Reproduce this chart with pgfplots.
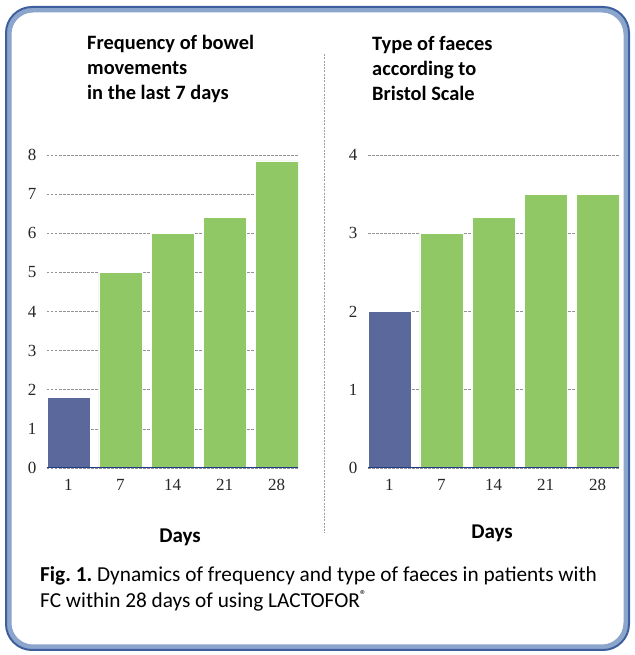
\documentclass[border=0pt]{standalone}
\usepackage{pgfplots}
\pgfplotsset{compat=1.18}
\usepackage{fontspec}
\setmainfont{Carlito}
\newfontfamily\tickfont{Liberation Serif}
\frenchspacing
\definecolor{barblue}{RGB}{91,104,156}
\definecolor{bargreen}{RGB}{143,200,101}
\definecolor{baseblue}{RGB}{31,60,136}
\definecolor{frameblue}{RGB}{62,95,158}
\definecolor{framelight}{RGB}{140,165,205}
\pgfplotsset{mybar/.style={
  scale only axis, width=251pt, height=313pt, anchor=south west,
  ymin=0, xmin=-0.41, xmax=4.41,
  ybar, bar width=43pt, bar shift=0pt,
  ymajorgrids, grid style={dash pattern=on 2.5pt off 1.5pt, gray!85, line width=0.7pt},
  axis x line*=bottom, axis y line*=left,
  y axis line style={draw=none},
  x axis line style={draw=none},
  major tick length=0pt,
  xtick={0,...,4}, xticklabels={1,7,14,21,28},
  ticklabel style={font=\tickfont\fontsize{17}{20}\selectfont, text=black!85},
  /pgf/number format/assume math mode=true,
  xticklabel style={yshift=-8pt},
  yticklabel style={xshift=-7pt},
}}
\begin{document}
\begin{tikzpicture}
\useasboundingbox (0pt,0pt) rectangle (634pt,655pt);
\draw[framelight, line width=5pt, rounded corners=24pt] (9pt,8pt) rectangle (626pt,645pt);
\draw[frameblue, line width=2pt, rounded corners=26pt] (6pt,5pt) rectangle (629pt,648pt);

\begin{axis}[mybar, at={(47pt,187pt)}, ymax=8, ytick={0,...,8}]
\addplot[fill=barblue, draw=white, line width=0.6pt] coordinates {(0,1.8)};
\addplot[fill=bargreen, draw=white, line width=0.6pt] coordinates {(1,5.0) (2,6.0) (3,6.4) (4,7.85)};
\draw[baseblue, line width=1.2pt] (axis cs:-0.41,0) -- (axis cs:4.41,0);
\end{axis}

\begin{axis}[mybar, at={(368pt,187pt)}, ymax=4, ytick={0,...,4}]
\addplot[fill=barblue, draw=white, line width=0.6pt] coordinates {(0,2.0)};
\addplot[fill=bargreen, draw=white, line width=0.6pt] coordinates {(1,3.0) (2,3.2) (3,3.5) (4,3.5)};
\draw[baseblue, line width=1.2pt] (axis cs:-0.41,0) -- (axis cs:4.41,0);
\end{axis}

\draw[gray!75, dash pattern=on 2pt off 1.3pt, line width=0.9pt] (324pt,601pt) -- (324pt,122pt);

\node[anchor=north west, align=left, inner sep=0pt, font=\bfseries\fontsize{20.4}{25}\selectfont] at (87pt,620pt) {Frequency of bowel\\movements\\in the last 7 days};
\node[anchor=north west, align=left, inner sep=0pt, font=\bfseries\fontsize{20.4}{25}\selectfont] at (372pt,619pt) {Type of faeces\\according to\\Bristol Scale};

\node[font=\bfseries\fontsize{21}{24}\selectfont] at (180pt,118pt) {Days};
\node[font=\bfseries\fontsize{21}{24}\selectfont] at (492pt,122pt) {Days};

\node[anchor=north west, align=left, inner sep=0pt, font=\fontsize{21.3}{26}\selectfont] at (40pt,89pt) {\textbf{Fig. 1.} Dynamics of frequency and type of faeces in patients with\\FC within 28 days of using LACTOFOR\textsuperscript{\fontsize{13}{13}\selectfont ®}};
\end{tikzpicture}
\end{document}
